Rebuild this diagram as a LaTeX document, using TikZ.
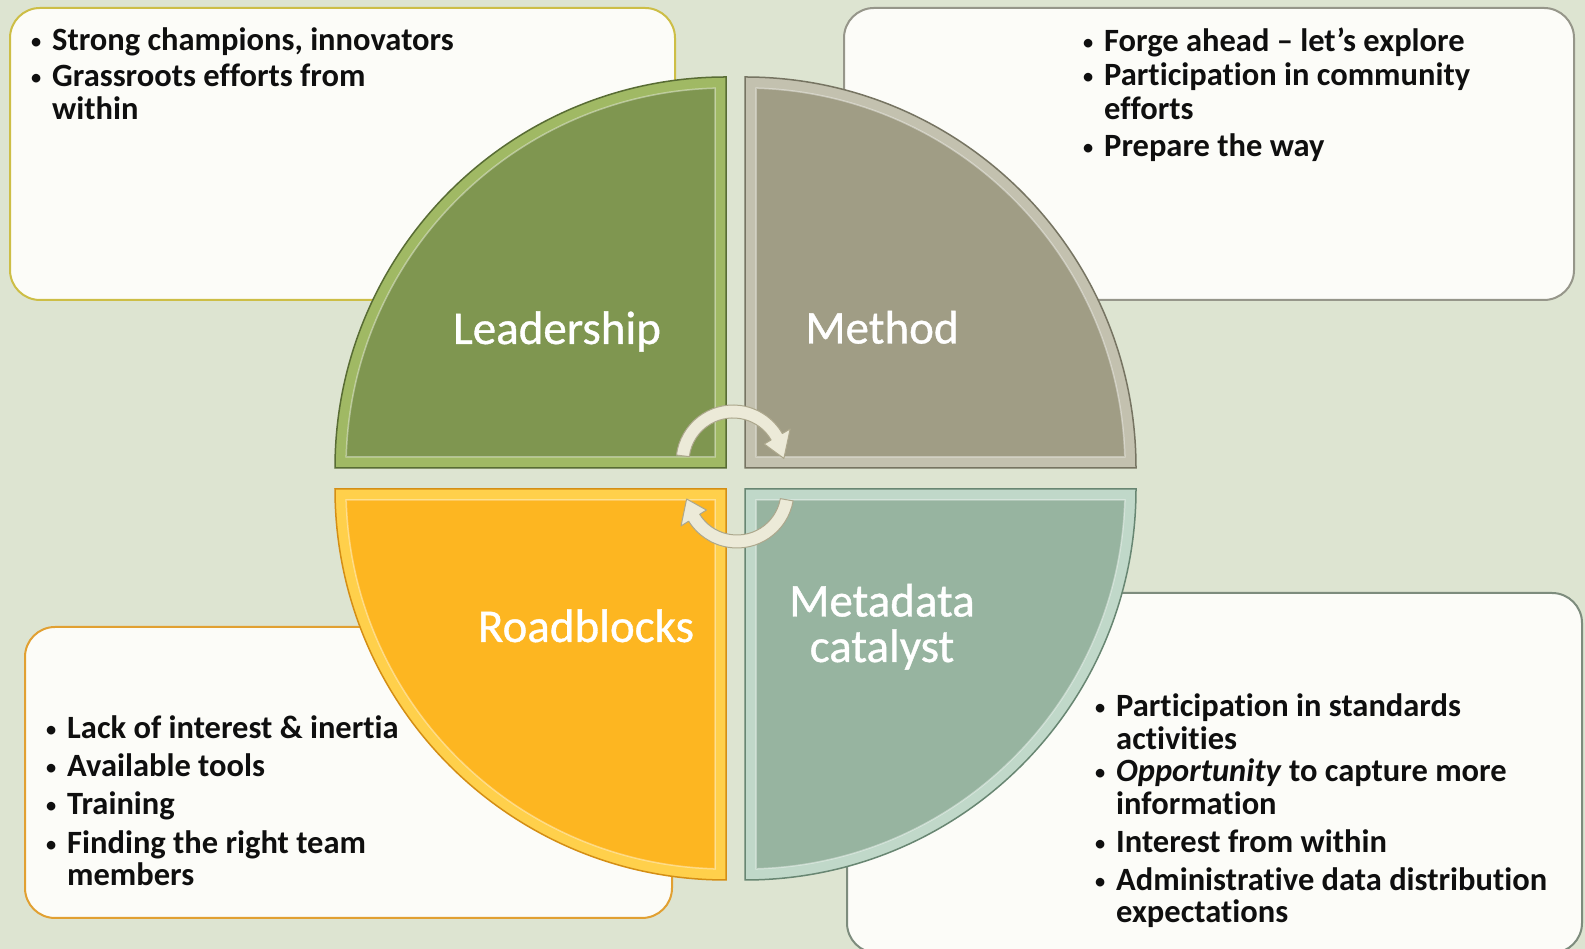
\documentclass[tikz,border=0pt]{standalone}
\usepackage{graphicx}
\usepackage{fontspec}
\setmainfont{Carlito}[Ligatures={NoCommon}]
\newfontfamily\labfont{Carlito}[Ligatures={NoCommon},FakeBold=0.8]
\definecolor{bg}{RGB}{221,228,209}
\definecolor{boxfill}{RGB}{252,252,248}
\definecolor{tlborder}{RGB}{205,190,70}
\definecolor{trborder}{RGB}{150,150,138}
\definecolor{blborder}{RGB}{225,160,50}
\definecolor{brborder}{RGB}{125,140,125}
\definecolor{leadmain}{RGB}{127,150,80}
\definecolor{leadband}{RGB}{160,185,100}
\definecolor{leaddark}{RGB}{88,108,52}
\definecolor{methmain}{RGB}{160,157,133}
\definecolor{methband}{RGB}{195,193,175}
\definecolor{methdark}{RGB}{118,116,98}
\definecolor{roadmain}{RGB}{253,182,33}
\definecolor{roadband}{RGB}{255,208,75}
\definecolor{roaddark}{RGB}{212,142,20}
\definecolor{metamain}{RGB}{151,180,160}
\definecolor{metaband}{RGB}{192,216,201}
\definecolor{metadark}{RGB}{104,134,114}
\definecolor{arrowfill}{RGB}{236,234,216}
\definecolor{arrowedge}{RGB}{172,167,140}
\definecolor{txtc}{RGB}{15,15,15}
\tikzset{
  infobox/.style={fill=boxfill, line width=2pt, rounded corners=30pt},
  txt/.style={anchor=base west, inner sep=0pt, text=txtc,
    font=\fontsize{32.5}{33}\selectfont\bfseries},
  lab/.style={anchor=base, inner sep=0pt, text=white,
    font=\fontsize{47}{47}\selectfont\labfont},
  rim/.style={line width=1.5pt},
  hilite/.style={draw=white, draw opacity=0.4, line width=1.5pt},
  cyclearrow/.style={fill=arrowfill, draw=arrowedge, line width=1pt, line join=round}
}
\newcommand{\bul}{\llap{\raisebox{0.06em}{\scalebox{0.75}{\mdseries •}}\hspace{10pt}}}
\begin{document}
\begin{tikzpicture}[x=1pt,y=1pt]
\useasboundingbox (0,0) rectangle (1585,949);
\clip (0,0) rectangle (1585,949);
\fill[bg] (0,0) rectangle (1585,949);

% text boxes
\draw[infobox, draw=tlborder] (10,649) rectangle (675,941);
\draw[infobox, draw=trborder] (844,649) rectangle (1574,941);
\draw[infobox, draw=blborder] (25,31) rectangle (672,322);
\draw[infobox, draw=brborder] (847,-4) rectangle (1582,356);

% Leadership quadrant
\fill[leadband] (726,481) -- (335,481) arc[start angle=180, end angle=90, radius=391pt] -- cycle;
\fill[leadmain] (715,492) -- ([shift={(726,481)}]178.34:380) arc[start angle=178.34, end angle=91.66, radius=380pt] -- cycle;
\draw[hilite] (715,492) -- ([shift={(726,481)}]178.34:380) arc[start angle=178.34, end angle=91.66, radius=380pt] -- cycle;
\draw[rim, draw=leaddark] (726,481) -- (335,481) arc[start angle=180, end angle=90, radius=391pt] -- cycle;

% Method quadrant
\fill[methband] (745,481) -- (745,872) arc[start angle=90, end angle=0, radius=391pt] -- cycle;
\fill[methmain] (756,492) -- ([shift={(745,481)}]88.34:380) arc[start angle=88.34, end angle=1.66, radius=380pt] -- cycle;
\draw[hilite] (756,492) -- ([shift={(745,481)}]88.34:380) arc[start angle=88.34, end angle=1.66, radius=380pt] -- cycle;
\draw[rim, draw=methdark] (745,481) -- (745,872) arc[start angle=90, end angle=0, radius=391pt] -- cycle;

% Roadblocks quadrant
\fill[roadband] (726,460) -- (726,69) arc[start angle=270, end angle=180, radius=391pt] -- cycle;
\fill[roadmain] (715,449) -- ([shift={(726,460)}]268.34:380) arc[start angle=268.34, end angle=181.66, radius=380pt] -- cycle;
\draw[hilite] (715,449) -- ([shift={(726,460)}]268.34:380) arc[start angle=268.34, end angle=181.66, radius=380pt] -- cycle;
\draw[rim, draw=roaddark] (726,460) -- (726,69) arc[start angle=270, end angle=180, radius=391pt] -- cycle;

% Metadata catalyst quadrant
\fill[metaband] (745,460) -- (1136,460) arc[start angle=0, end angle=-90, radius=391pt] -- cycle;
\fill[metamain] (756,449) -- ([shift={(745,460)}]-1.66:380) arc[start angle=-1.66, end angle=-88.34, radius=380pt] -- cycle;
\draw[hilite] (756,449) -- ([shift={(745,460)}]-1.66:380) arc[start angle=-1.66, end angle=-88.34, radius=380pt] -- cycle;
\draw[rim, draw=metadark] (745,460) -- (1136,460) arc[start angle=0, end angle=-90, radius=391pt] -- cycle;

% cycle arrows
\draw[cyclearrow] ([shift={(733,487)}]173:57) arc[start angle=173, end angle=30, radius=57pt]
  -- ([shift={(733,487)}]30:66) -- ([shift={(733,487)}]4:51) -- ([shift={(733,487)}]30:36)
  -- ([shift={(733,487)}]30:44) arc[start angle=30, end angle=173, radius=44pt] -- cycle;
\draw[cyclearrow] ([shift={(737,458)}]350:57) arc[start angle=350, end angle=212, radius=57pt]
  -- ([shift={(737,458)}]212:66) -- ([shift={(737,458)}]189:51) -- ([shift={(737,458)}]212:36)
  -- ([shift={(737,458)}]212:44) arc[start angle=212, end angle=350, radius=44pt] -- cycle;

% quadrant labels
\node[lab] (lead) at (557,605) {Leadership};
\node[lab] (meth) at (882,605.5) {Method};
\node[lab] (road) at (586,307) {Roadblocks};
\node[lab] (meta1) at (882,332.5) {Metadata};
\node[lab] (meta2) at (882,287) {catalyst};

% top-left text
\node[txt] (tl1) at (52,898) {\bul Strong champions, innovators};
\node[txt] (tl2) at (52,862) {\bul Grassroots efforts from};
\node[txt] (tl3) at (52,829) {within};

% top-right text
\node[txt] (tr1) at (1104,897) {\bul Forge ahead – let’s explore};
\node[txt] (tr2) at (1104,863) {\bul Participation in community};
\node[txt] (tr3) at (1104,829) {efforts};
\node[txt] (tr4) at (1104,792) {\bul Prepare the way};

% bottom-left text
\node[txt] (bl1) at (67,210) {\bul Lack of interest \& inertia};
\node[txt] (bl2) at (67,172) {\bul Available tools};
\node[txt] (bl3) at (67,134) {\bul Training};
\node[txt] (bl4) at (67,95) {\bul Finding the right team};
\node[txt] (bl5) at (67,63) {members};

% bottom-right text
\node[txt] (br1) at (1116,232) {\bul Participation in standards};
\node[txt] (br2) at (1116,199) {activities};
\node[txt] (br3) at (1116,167) {\bul \textit{Opportunity} to capture more};
\node[txt] (br4) at (1116,134) {information};
\node[txt] (br5) at (1116,96) {\bul Interest from within};
\node[txt] (br6) at (1116,58) {\bul Administrative data distribution};
\node[txt] (br7) at (1116,26) {expectations};
\end{tikzpicture}
\end{document}
